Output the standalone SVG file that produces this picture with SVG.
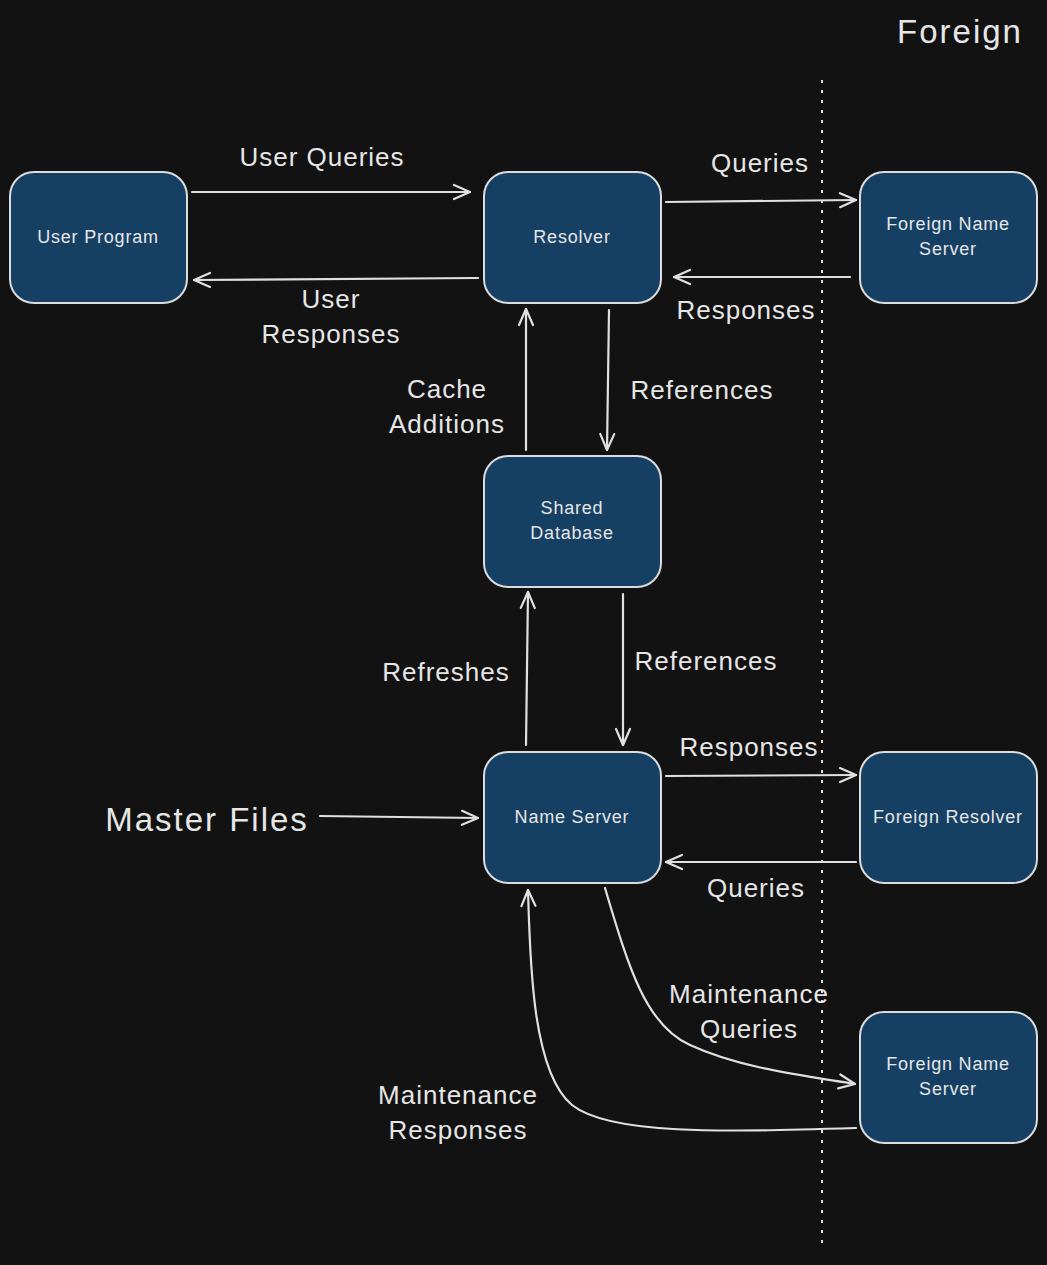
<svg xmlns="http://www.w3.org/2000/svg" width="1047" height="1265" viewBox="0 0 1047 1265">
<style>
.node rect{fill:#154063;stroke:#dcdcdc;stroke-width:2}
.node text{fill:#e6e6e6;font-family:"Liberation Sans",Arial,sans-serif;font-size:18px;letter-spacing:0.8px;text-anchor:middle}
.lbl{fill:#e6e6e6;font-family:"Liberation Sans",Arial,sans-serif;font-size:26px;letter-spacing:1px;text-anchor:middle}
.big{font-size:33px;letter-spacing:2px}
#connectors path{fill:none;stroke:#e0e0e0;stroke-width:2.2;stroke-linecap:round}
</style>
<defs>
<marker id="ah" viewBox="0 0 20 20" refX="18" refY="10" markerWidth="20" markerHeight="20" markerUnits="userSpaceOnUse" orient="auto">
<path d="M2,3 L18,10 L2,17" fill="none" stroke="#e0e0e0" stroke-width="2.2" stroke-linecap="round" stroke-linejoin="round"/>
</marker>
</defs>
<rect width="1047" height="1265" fill="#121212"/>
<line x1="822" y1="80" x2="822" y2="1250" stroke="#e0e0e0" stroke-width="2" stroke-dasharray="3,7"/>
<text class="lbl big" x="960" y="43">Foreign</text>

<g id="user-program" class="node"><rect x="10" y="172" width="177" height="131" rx="24"/><text x="98" y="243">User Program</text></g>
<g id="resolver" class="node"><rect x="484" y="172" width="177" height="131" rx="24"/><text x="572" y="243">Resolver</text></g>
<g id="foreign-name-server-1" class="node"><rect x="860" y="172" width="177" height="131" rx="24"/><text x="948" y="230">Foreign Name</text><text x="948" y="255">Server</text></g>
<g id="shared-database" class="node"><rect x="484" y="456" width="177" height="131" rx="24"/><text x="572" y="514">Shared</text><text x="572" y="539">Database</text></g>
<g id="name-server" class="node"><rect x="484" y="752" width="177" height="131" rx="24"/><text x="572" y="823">Name Server</text></g>
<g id="foreign-resolver" class="node"><rect x="860" y="752" width="177" height="131" rx="24"/><text x="948" y="823">Foreign Resolver</text></g>
<g id="foreign-name-server-2" class="node"><rect x="860" y="1012" width="177" height="131" rx="24"/><text x="948" y="1070">Foreign Name</text><text x="948" y="1095">Server</text></g>

<g id="connectors">
<path d="M192,192 L470,192" marker-end="url(#ah)"/>
<path d="M478,278 L194,280" marker-end="url(#ah)"/>
<path d="M666,202 L856,200" marker-end="url(#ah)"/>
<path d="M850,277 L674,277" marker-end="url(#ah)"/>
<path d="M526,450 L526,309" marker-end="url(#ah)"/>
<path d="M609,310 L607,450" marker-end="url(#ah)"/>
<path d="M526,745 L528,592" marker-end="url(#ah)"/>
<path d="M623,594 L623,745" marker-end="url(#ah)"/>
<path d="M666,776 L856,775" marker-end="url(#ah)"/>
<path d="M856,862 L666,862" marker-end="url(#ah)"/>
<path d="M320,816 L478,818" marker-end="url(#ah)"/>
<path d="M605,888 C628,965 645,1025 690,1045 C740,1068 800,1075 855,1084" marker-end="url(#ah)"/>
<path d="M856,1128 C720,1132 610,1135 572,1105 C532,1072 530,960 528,890" marker-end="url(#ah)"/>
</g>

<g id="labels">
<text class="lbl" x="322" y="166">User Queries</text>
<text class="lbl" x="331" y="308">User</text>
<text class="lbl" x="331" y="343">Responses</text>
<text class="lbl" x="760" y="172">Queries</text>
<text class="lbl" x="746" y="319">Responses</text>
<text class="lbl" x="447" y="398">Cache</text>
<text class="lbl" x="447" y="433">Additions</text>
<text class="lbl" x="702" y="399">References</text>
<text class="lbl" x="446" y="681">Refreshes</text>
<text class="lbl" x="706" y="670">References</text>
<text class="lbl" x="749" y="756">Responses</text>
<text class="lbl" x="756" y="897">Queries</text>
<text class="lbl big" x="207" y="831">Master Files</text>
<text class="lbl" x="749" y="1003">Maintenance</text>
<text class="lbl" x="749" y="1038">Queries</text>
<text class="lbl" x="458" y="1104">Maintenance</text>
<text class="lbl" x="458" y="1139">Responses</text>
</g>
</svg>
